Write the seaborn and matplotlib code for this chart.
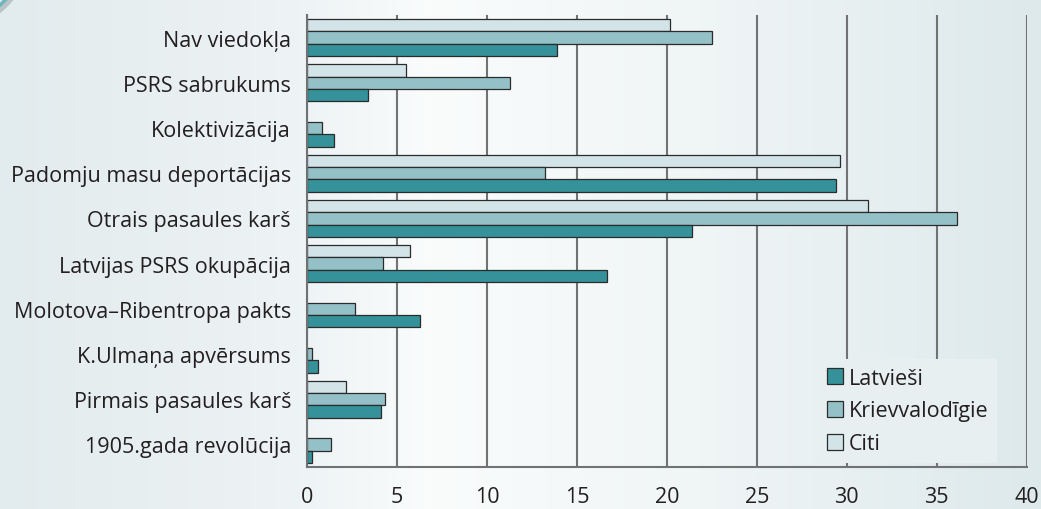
import numpy as np
import pandas as pd
import seaborn as sns
import matplotlib.pyplot as plt
from matplotlib.patches import Patch, Arc

# Dati (vērtības nolasītas no attēla)
kategorijas = ['Nav viedokļa', 'PSRS sabrukums', 'Kolektivizācija',
               'Padomju masu deportācijas', 'Otrais pasaules karš',
               'Latvijas PSRS okupācija', 'Molotova–Ribentropa pakts',
               'K.Ulmaņa apvērsums', 'Pirmais pasaules karš', '1905.gada revolūcija']
latviesi = [13.9, 3.4, 1.5, 29.4, 21.4, 16.7, 6.3, 0.6, 4.1, 0.3]
krievvalodigie = [22.5, 11.3, 0.85, 13.2, 36.1, 4.25, 2.65, 0.3, 4.35, 1.35]
citi = [20.2, 5.5, np.nan, 29.6, 31.2, 5.75, np.nan, np.nan, 2.15, np.nan]
x_ticks = [0, 5, 10, 15, 20, 25, 30, 35, 40]

grupas = ['Citi', 'Krievvalodīgie', 'Latvieši']
krasas = {'Latvieši': '#35929a', 'Krievvalodīgie': '#94c1c7', 'Citi': '#d2e4e8'}

df = pd.DataFrame({
    'kategorija': kategorijas * 3,
    'grupa': ['Citi'] * 10 + ['Krievvalodīgie'] * 10 + ['Latvieši'] * 10,
    'vertiba': citi + krievvalodigie + latviesi,
})

sns.set_style('white')
plt.rcParams['font.family'] = ['Open Sans', 'DejaVu Sans']
teksts = '#231f20'
peleks = '#707274'
fs = 15.5

fig = plt.figure(figsize=(10.41, 5.10), dpi=100)

# Fona krāsu pāreja
bg = fig.add_axes([0, 0, 1, 1], zorder=-1)
px = np.arange(1041)
punkti = [0, 300, 430, 700, 1040]
r = np.interp(px, punkti, [0xe2, 0xee, 0xfa, 0xf0, 0xdd]) / 255
g = np.interp(px, punkti, [0xeb, 0xf3, 0xfc, 0xf5, 0xe9]) / 255
b = np.interp(px, punkti, [0xed, 0xf5, 0xfc, 0xf6, 0xeb]) / 255
grad = np.stack([r, g, b], axis=-1)[None, :, :]
bg.imshow(grad, extent=[0, 1041, 510, 0], aspect='auto')
bg.add_patch(Arc((-55, -55), 170, 170, theta1=0, theta2=90, color='#b9c4c6', lw=5))
bg.add_patch(Arc((-57, -57), 170, 170, theta1=0, theta2=90, color='#6fb5bd', lw=2.5))
bg.set_xlim(0, 1041)
bg.set_ylim(510, 0)
bg.axis('off')

ax = fig.add_axes([0.2949, 0.0824, 0.6914, 0.8862])
ax.set_facecolor('none')

sns.barplot(data=df, y='kategorija', x='vertiba', hue='grupa', hue_order=grupas,
            order=kategorijas, palette=krasas, saturation=1, orient='h', width=0.82,
            edgecolor='#2b2b2b', linewidth=0.9, errorbar=None, legend=False,
            ax=ax, zorder=3)

ax.set_xlim(0, 40)
ax.set_ylim(9.5, -0.5)
ax.set_xticks(x_ticks)
ax.set_xticklabels([str(t) for t in x_ticks])
ax.set_yticks(range(10))
ax.set_yticklabels(kategorijas)
ax.set_yticks(np.arange(-0.5, 10, 1), minor=True)
ax.set_xlabel('')
ax.set_ylabel('')

for v in x_ticks:
    ax.axvline(v, color=peleks, lw=1.5, zorder=1)

for s in ['top', 'right']:
    ax.spines[s].set_visible(False)
for s in ['left', 'bottom']:
    ax.spines[s].set_color(peleks)
    ax.spines[s].set_linewidth(1.5)
    ax.spines[s].set_zorder(4)

ax.tick_params(axis='y', which='major', length=0, pad=11.5, labelsize=fs, labelcolor=teksts)
ax.tick_params(axis='y', which='minor', length=7, width=1.5, color=peleks, direction='out')
ax.tick_params(axis='x', which='major', length=16, width=1.5, color=peleks, direction='inout',
               pad=6, labelsize=fs, labelcolor=teksts)

# Leģenda
rokturi = [Patch(facecolor=krasas[k], edgecolor='#2b2b2b', lw=0.9, label=k)
           for k in ['Latvieši', 'Krievvalodīgie', 'Citi']]
leg = ax.legend(handles=rokturi, loc='lower left', bbox_to_anchor=(0.71, 0.009),
                borderaxespad=0, fontsize=fs, frameon=True, facecolor='#e7eff1',
                edgecolor='none', framealpha=1, handlelength=0.75, handleheight=0.75,
                handletextpad=0.3, labelspacing=0.55, borderpad=0.4, fancybox=False)
leg.set_zorder(5)
for t in leg.get_texts():
    t.set_color(teksts)

plt.savefig('out.png', dpi=100)
